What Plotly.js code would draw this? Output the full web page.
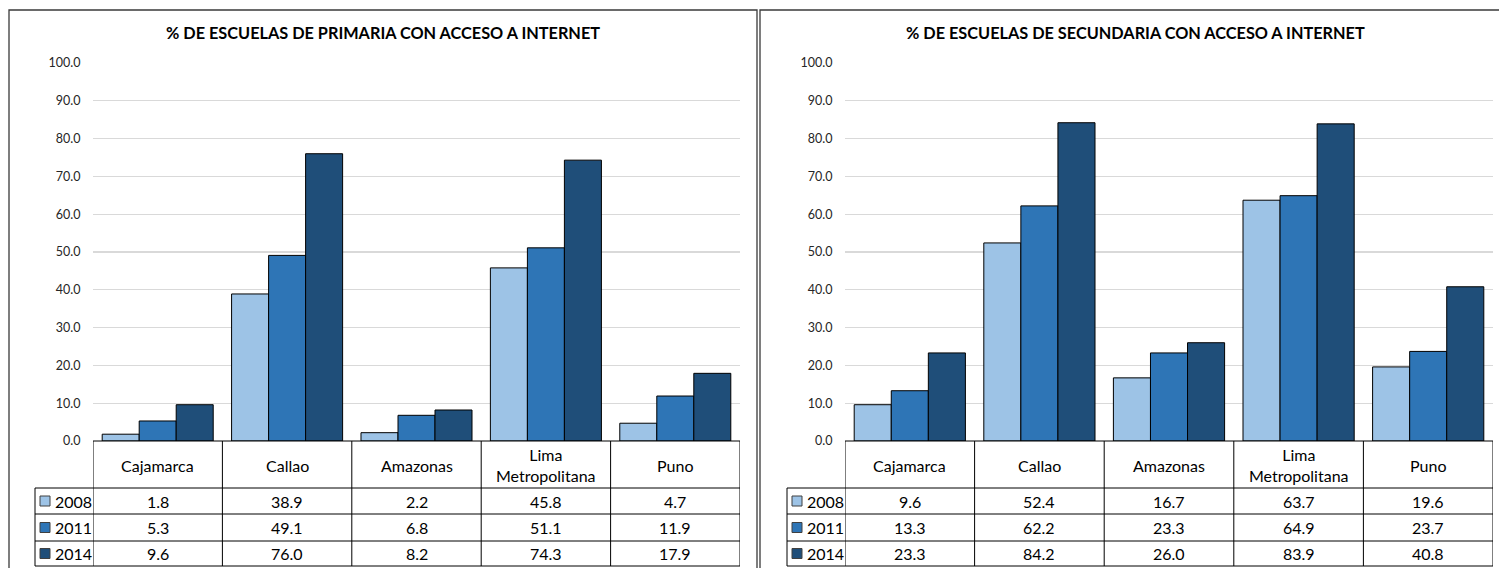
<!DOCTYPE html>
<html>
<head>
<meta charset="utf-8">
<script src="https://cdn.plot.ly/plotly-3.0.1.min.js"></script>
<style>html,body{margin:0;padding:0;background:#fff;}#chart{width:1499px;height:568px;}</style>
</head>
<body>
<div id="chart"></div>
<script>
// ---- data ----
const categories = ['Cajamarca', 'Callao', 'Amazonas', 'Lima Metropolitana', 'Puno'];
const categoryLabels = ['Cajamarca', 'Callao', 'Amazonas', 'Lima<br>Metropolitana', 'Puno'];
const years = ['2008', '2011', '2014'];
const primaria2008 = [1.8, 38.9, 2.2, 45.8, 4.7];
const primaria2011 = [5.3, 49.1, 6.8, 51.1, 11.9];
const primaria2014 = [9.6, 76.0, 8.2, 74.3, 17.9];
const secundaria2008 = [9.6, 52.4, 16.7, 63.7, 19.6];
const secundaria2011 = [13.3, 62.2, 23.3, 64.9, 23.7];
const secundaria2014 = [23.3, 84.2, 26.0, 83.9, 40.8];
const titlePrimaria = '% DE ESCUELAS DE PRIMARIA CON ACCESO A INTERNET';
const titleSecundaria = '% DE ESCUELAS DE SECUNDARIA CON ACCESO A INTERNET';
const yTickVals = [0, 10, 20, 30, 40, 50, 60, 70, 80, 90, 100];
const yTickText = ['0.0', '10.0', '20.0', '30.0', '40.0', '50.0', '60.0', '70.0', '80.0', '90.0', '100.0'];

// ---- styling / layout ----
const W = 1499, H = 568;
const colors = ['#9DC3E6', '#2E75B6', '#1F4E79'];
const FONT = 'Lato, "Open Sans", sans-serif';
const px = v => v / W;
const py = v => 1 - v / H;

const panels = [
  { data: [primaria2008, primaria2011, primaria2014], title: titlePrimaria, xa: 'x', ya: 'y',
    plotL: 93, plotR: 740, legL: 35, border: [9, 757], titleX: 383 },
  { data: [secundaria2008, secundaria2011, secundaria2014], title: titleSecundaria, xa: 'x2', ya: 'y2',
    plotL: 845, plotR: 1493, legL: 787, border: [760, 1505], titleX: 1135 }
];
const plotTop = 63, plotBot = 441;
const rowLines = [441, 488, 514, 541, 566];

const traces = [];
const shapes = [];
const annotations = [];

panels.forEach((p, pi) => {
  p.data.forEach((vals, yi) => {
    traces.push({
      type: 'bar', x: categories, y: vals, name: years[yi],
      xaxis: p.xa, yaxis: p.ya,
      marker: { color: colors[yi], line: { color: '#000000', width: 1 } },
      showlegend: false, hoverinfo: 'x+y+name'
    });
  });
  // panel border
  shapes.push({ type: 'rect', xref: 'paper', yref: 'paper',
    x0: px(p.border[0]), x1: px(p.border[1]), y0: py(600), y1: py(10),
    line: { color: '#3a3a3a', width: 1.3 }, fillcolor: 'rgba(0,0,0,0)', layer: 'below' });
  // title
  annotations.push({ xref: 'paper', yref: 'paper', x: px(p.titleX), y: py(33),
    text: '<b>' + p.title + '</b>', showarrow: false, xanchor: 'center', yanchor: 'middle',
    font: { family: FONT, size: 16.3, color: '#000' } });
  // table horizontal lines
  rowLines.forEach((r, ri) => {
    shapes.push({ type: 'line', xref: 'paper', yref: 'paper',
      x0: px(ri === 0 ? p.plotL : p.legL), x1: px(p.plotR), y0: py(r), y1: py(r),
      line: { color: '#000', width: 1 } });
  });
  // table vertical lines at category boundaries
  const xaKey = p.xa;
  for (let i = 0; i <= categories.length; i++) {
    shapes.push({ type: 'line', xref: xaKey, yref: 'paper',
      x0: i - 0.5, x1: i - 0.5, y0: py(441), y1: py(566),
      line: { color: '#000', width: 1 } });
  }
  // legend column left line
  shapes.push({ type: 'line', xref: 'paper', yref: 'paper',
    x0: px(p.legL), x1: px(p.legL), y0: py(488), y1: py(566),
    line: { color: '#000', width: 1 } });
  // category header labels
  categories.forEach((c, ci) => {
    annotations.push({ xref: xaKey, yref: 'paper', x: c, y: py(465),
      text: categoryLabels[ci], showarrow: false, xanchor: 'center', yanchor: 'middle',
      font: { family: FONT, size: 16, color: '#000' } });
  });
  // rows
  const rowCenters = [501, 527.5, 553.5];
  p.data.forEach((vals, yi) => {
    // legend key
    shapes.push({ type: 'rect', xref: 'paper', yref: 'paper',
      x0: px(p.legL + 5), x1: px(p.legL + 15), y0: py(rowCenters[yi] + 5), y1: py(rowCenters[yi] - 5),
      fillcolor: colors[yi], line: { color: '#404040', width: 1 } });
    annotations.push({ xref: 'paper', yref: 'paper', x: px(p.legL + 18), y: py(rowCenters[yi]),
      text: years[yi], showarrow: false, xanchor: 'left', yanchor: 'middle',
      font: { family: FONT, size: 16, color: '#000' } });
    vals.forEach((v, ci) => {
      annotations.push({ xref: xaKey, yref: 'paper', x: categories[ci], y: py(rowCenters[yi]),
        text: v.toFixed(1), showarrow: false, xanchor: 'center', yanchor: 'middle',
        font: { family: FONT, size: 16, color: '#000' } });
    });
  });
});

const yaxisBase = {
  range: [0, 100], tickvals: yTickVals, ticktext: yTickText,
  showgrid: true, gridcolor: '#D9D9D9', gridwidth: 1.3, zeroline: false, showline: false,
  ticks: 'outside', ticklen: 9, tickcolor: 'rgba(0,0,0,0)',
  tickfont: { family: FONT, size: 12.5, color: '#262626' },
  domain: [py(plotBot), py(plotTop)], fixedrange: true
};
const xaxisBase = {
  type: 'category', range: [-0.5, 4.5], showticklabels: false, showgrid: false,
  zeroline: false, showline: false, ticks: '', fixedrange: true
};

const layout = {
  width: W, height: H,
  margin: { l: 0, r: 0, t: 0, b: 0 },
  paper_bgcolor: '#ffffff', plot_bgcolor: 'rgba(0,0,0,0)',
  barmode: 'group', bargap: 0.142, bargroupgap: 0,
  showlegend: false,
  xaxis: Object.assign({}, xaxisBase, { domain: [px(panels[0].plotL), px(panels[0].plotR)], anchor: 'y' }),
  yaxis: Object.assign({}, yaxisBase, { anchor: 'x' }),
  xaxis2: Object.assign({}, xaxisBase, { domain: [px(panels[1].plotL), px(panels[1].plotR)], anchor: 'y2' }),
  yaxis2: Object.assign({}, yaxisBase, { anchor: 'x2' }),
  shapes: shapes,
  annotations: annotations,
  font: { family: FONT }
};

Plotly.newPlot('chart', traces, layout, { displayModeBar: false, staticPlot: true });
</script>
</body>
</html>
